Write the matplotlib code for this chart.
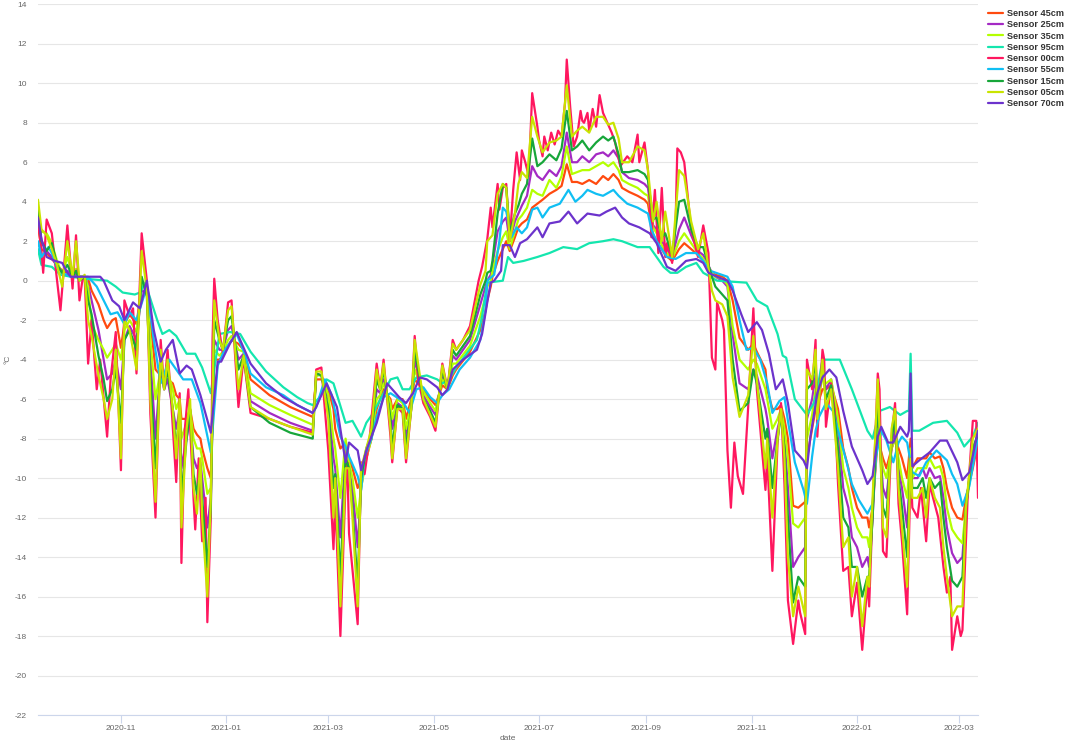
import matplotlib
matplotlib.use('Agg')
import matplotlib.pyplot as plt
import matplotlib.dates as mdates
import pandas as pd

START = '2020-09-14'   # first logged day, data given as (day since START, temperature)
END = '2022-03-12'

# --- Sensor 00cm (surface), sampled densely because of the spikes
s00 = [(0, 3.0), (2, 1.5), (3, 0.4), (5, 3.1), (8, 2.4), (10, 0.8), (13, -1.5), (17, 2.8), (20, -0.4),
       (22, 2.3), (24, -1.0), (26, 0.2), (27, 0.2), (29, -4.2), (31, -2.0), (34, -5.5), (36, -4.0),
       (40, -7.9), (42, -5.0), (45, -2.6), (48, -9.6), (50, -1.0), (53, -1.8), (55, -1.4), (57, -4.7),
       (60, 2.4), (63, 0.0), (65, -6.7), (68, -12.0), (71, -3.0), (73, -5.5), (75, -3.5), (77, -6.0),
       (80, -10.2), (82, -5.7), (83, -14.3), (85, -7.5), (87, -5.5), (90, -11.0), (91, -12.6), (93, -9.0),
       (95, -13.2), (97, -11.0), (98, -17.3), (100, -12.0), (101, -3.0), (102, 0.1), (104, -2.0),
       (107, -3.7), (110, -1.1), (112, -1.0), (116, -6.4), (119, -3.9), (123, -6.7), (134, -7.0),
       (146, -7.4), (159, -7.7), (161, -4.5), (164, -4.4), (168, -8.6), (171, -13.6), (172, -11.0),
       (175, -18.0), (178, -10.2), (179, -9.2), (180, -12.8), (185, -17.4), (187, -9.2), (189, -9.8),
       (192, -7.9), (196, -4.2), (198, -5.5), (200, -4.0), (204, -7.9), (205, -9.2), (208, -6.4),
       (211, -6.7), (213, -9.2), (216, -6.5), (218, -2.8), (220, -5.0), (223, -6.2), (227, -6.9),
       (230, -7.6), (234, -4.2), (237, -5.5), (240, -3.0), (242, -3.5), (246, -3.0), (250, -2.3),
       (255, 0.0), (257, 0.7), (260, 2.1), (262, 3.7), (263, 2.7), (266, 4.9), (267, 3.6), (269, 4.7),
       (271, 4.9), (273, 2.0), (275, 4.6), (277, 6.5), (279, 5.1), (280, 6.6), (282, 6.0), (284, 5.3),
       (286, 9.5), (289, 7.8), (290, 7.1), (292, 6.3), (293, 7.3), (295, 6.6), (297, 7.5), (299, 6.9),
       (301, 7.6), (303, 7.3), (305, 9.0), (306, 11.2), (308, 8.8), (310, 6.8), (312, 7.3), (314, 8.6),
       (315, 8.1), (316, 8.0), (318, 8.5), (319, 7.6), (321, 8.7), (323, 7.8), (325, 9.4), (327, 8.5),
       (329, 8.1), (332, 7.5), (334, 7.0), (337, 5.8), (341, 6.3), (344, 6.0), (347, 7.4), (348, 6.0),
       (351, 7.0), (353, 5.6), (355, 2.2), (357, 4.6), (359, 1.4), (361, 4.7), (363, 1.2), (364, 1.9),
       (367, 0.9), (369, 3.0), (370, 6.7), (372, 6.5), (374, 6.0), (378, 2.6), (382, 1.2), (385, 2.8),
       (388, 1.4), (390, -3.9), (392, -4.5), (393, -1.1), (396, -2.0), (397, -2.5), (399, -8.6),
       (401, -11.5), (403, -8.2), (405, -9.9), (408, -10.8), (411, -6.4), (414, -1.4), (416, -5.5),
       (418, -7.5), (421, -10.6), (422, -8.9), (425, -14.7), (428, -8.2), (430, -6.2), (432, -10.3),
       (434, -16.2), (437, -18.4), (440, -16.2), (441, -16.8), (444, -17.9), (445, -4.0), (448, -5.5),
       (450, -3.0), (451, -7.9), (454, -3.5), (455, -4.0), (456, -7.4), (459, -5.2), (461, -6.5),
       (463, -10.3), (466, -14.7), (469, -14.5), (471, -17.0), (474, -15.3), (477, -18.7), (480, -15.3),
       (481, -16.5), (483, -11.6), (486, -4.7), (487, -5.5), (489, -13.7), (491, -14.0), (494, -7.9),
       (496, -6.2), (498, -11.3), (500, -13.2), (503, -16.9), (505, -9.6), (506, -11.5), (509, -12.0),
       (511, -10.5), (514, -13.2), (516, -10.3), (518, -11.0), (521, -12.0), (524, -14.5), (526, -15.8),
       (528, -15.0), (529, -18.7), (532, -17.0), (534, -18.0), (535, -17.7), (538, -11.0), (541, -7.1),
       (543, -7.1), (544, -11.0)]

# --- Sensor 70cm
s70 = [(0, 3.2), (2, 2.1), (5, 1.2), (10, 1.0), (14, 0.9), (17, 0.4), (19, 0.2), (36, 0.2), (38, 0.0),
       (43, -1.0), (47, -1.3), (50, -2.0), (55, -1.1), (59, -1.4), (63, 0.0), (67, -2.5), (71, -4.1),
       (74, -3.5), (78, -3.0), (82, -4.7), (86, -4.3), (89, -4.5), (94, -5.8), (100, -7.7), (104, -4.1),
       (106, -4.1), (111, -3.2), (115, -2.6), (119, -3.4), (123, -4.2), (132, -5.2), (142, -5.9),
       (150, -6.3), (159, -6.7), (161, -6.4), (167, -5.2), (173, -6.4), (178, -9.2), (180, -8.2),
       (185, -8.6), (187, -9.6), (190, -8.6), (196, -7.2), (200, -5.9), (202, -5.2), (205, -5.5),
       (209, -5.9), (213, -6.2), (217, -5.7), (221, -4.9), (225, -5.0), (231, -5.4), (234, -5.8),
       (237, -5.5), (240, -4.5), (246, -4.0), (254, -3.5), (257, -2.7), (260, -1.1), (262, -0.1),
       (264, 0.0), (268, 0.5), (269, 1.8), (273, 1.8), (276, 1.2), (279, 1.9), (283, 2.1), (289, 2.7),
       (292, 2.2), (296, 2.9), (302, 3.0), (307, 3.5), (312, 2.9), (318, 3.4), (325, 3.3), (329, 3.5),
       (334, 3.7), (338, 3.2), (342, 2.9), (348, 2.7), (354, 2.4), (358, 1.9), (364, 0.7), (369, 0.5),
       (375, 1.0), (381, 1.1), (385, 0.9), (388, 0.4), (393, 0.2), (399, 0.0), (402, -0.5), (407, -1.7),
       (411, -2.6), (416, -2.1), (419, -2.5), (423, -3.7), (427, -5.5), (431, -5.0), (434, -6.2),
       (438, -8.6), (443, -9.1), (445, -9.5), (447, -7.9), (451, -5.7), (454, -4.9), (458, -4.5),
       (462, -4.9), (466, -6.6), (471, -8.4), (477, -9.6), (480, -10.3), (483, -9.9), (486, -7.9),
       (488, -7.4), (492, -8.2), (495, -8.2), (499, -7.4), (503, -7.9), (504, -7.6), (505, -4.7),
       (506, -9.4), (510, -9.1), (516, -8.7), (522, -8.1), (526, -8.1), (532, -9.2), (535, -10.1),
       (539, -9.7), (544, -7.6)]

# --- Sensor 55cm
s55 = [(0, 2.0), (2, 1.2), (6, 1.7), (8, 1.4), (11, 0.7), (14, 0.4), (19, 0.2), (29, 0.2), (34, -0.3),
       (38, -1.0), (42, -1.7), (46, -1.6), (50, -2.2), (53, -1.6), (57, -2.0), (63, -0.3), (67, -3.0),
       (71, -5.2), (76, -4.0), (84, -5.0), (89, -5.0), (94, -6.2), (100, -8.7), (104, -4.3), (108, -3.5),
       (115, -2.7), (120, -3.8), (123, -4.7), (132, -5.4), (142, -5.8), (150, -6.3), (159, -6.7),
       (161, -6.4), (166, -5.0), (170, -5.8), (175, -7.9), (178, -8.4), (180, -8.9), (185, -9.9),
       (187, -10.6), (189, -8.9), (193, -8.0), (196, -6.9), (200, -5.9), (204, -5.7), (211, -6.1),
       (215, -6.7), (219, -5.5), (223, -5.4), (227, -5.9), (231, -6.2), (234, -5.8), (238, -5.5),
       (244, -4.5), (250, -3.9), (256, -3.0), (259, -1.5), (260, 0.0), (264, 0.3), (267, 2.0), (269, 3.7),
       (271, 3.5), (274, 2.2), (277, 2.7), (280, 2.4), (283, 2.7), (286, 3.6), (289, 3.7), (292, 3.2),
       (296, 3.7), (302, 3.9), (307, 4.6), (311, 4.0), (315, 4.3), (318, 4.6), (323, 4.4), (327, 4.3),
       (333, 4.6), (336, 4.3), (341, 3.9), (347, 3.7), (353, 3.4), (355, 2.6), (358, 2.0), (364, 1.2),
       (369, 1.1), (375, 1.4), (381, 1.4), (385, 1.0), (389, 0.5), (399, 0.2), (402, -0.3), (406, -2.0),
       (410, -3.5), (414, -3.4), (418, -4.0), (422, -5.2), (425, -6.7), (429, -6.1), (432, -5.9),
       (434, -7.1), (438, -9.2), (443, -10.6), (445, -11.3), (448, -8.9), (450, -7.6), (452, -6.9),
       (456, -6.2), (460, -6.6), (464, -7.9), (468, -9.2), (471, -10.3), (475, -11.1), (480, -11.8),
       (483, -11.3), (485, -8.9), (488, -7.6), (491, -8.1), (495, -9.2), (498, -8.2), (500, -7.9),
       (503, -8.2), (506, -9.7), (510, -9.9), (514, -9.2), (520, -8.6), (526, -9.1), (529, -9.8),
       (532, -10.3), (535, -11.4), (539, -10.4), (544, -7.9)]

# --- Sensor 95cm (deepest, smoothest)
s95 = [(0, 1.6), (2, 0.8), (8, 0.7), (13, 0.3), (19, 0.2), (27, 0.1), (40, 0.0), (45, -0.3), (49, -0.6),
       (56, -0.7), (59, -0.6), (62, -0.1), (69, -2.0), (72, -2.7), (76, -2.5), (80, -2.8), (86, -3.7),
       (91, -3.7), (95, -4.4), (100, -5.7), (105, -2.7), (111, -2.6), (117, -2.7), (123, -3.6),
       (132, -4.6), (142, -5.4), (150, -5.9), (156, -6.2), (159, -6.3), (163, -5.9), (167, -5.0),
       (171, -5.2), (178, -7.2), (182, -7.1), (187, -7.9), (190, -7.2), (194, -6.7), (200, -5.7),
       (204, -5.0), (208, -4.9), (211, -5.5), (215, -5.5), (219, -4.9), (225, -4.8), (231, -5.0),
       (234, -5.2), (238, -5.0), (242, -4.4), (248, -3.7), (254, -3.0), (257, -1.8), (260, -0.1),
       (269, 0.0), (272, 1.2), (275, 0.9), (281, 1.0), (289, 1.2), (296, 1.4), (304, 1.7), (312, 1.6),
       (319, 1.9), (327, 2.0), (333, 2.1), (338, 2.0), (347, 1.7), (354, 1.7), (358, 1.2), (362, 0.7),
       (366, 0.4), (370, 0.4), (375, 0.7), (381, 0.9), (385, 0.4), (393, 0.0), (410, -0.1), (416, -1.0),
       (422, -1.3), (428, -2.7), (431, -3.8), (433, -3.9), (438, -6.0), (445, -6.8), (449, -6.2),
       (451, -5.5), (454, -4.0), (464, -4.0), (471, -5.5), (480, -7.6), (483, -8.0), (487, -6.6),
       (493, -6.4), (499, -6.8), (503, -6.6), (504, -6.6), (505, -3.7), (506, -7.6), (510, -7.6),
       (518, -7.2), (526, -7.1), (532, -7.7), (536, -8.4), (541, -7.9), (544, -7.2)]

# --- the five middle sensors share one set of sample days
days_mid = [0, 2, 5, 8, 11, 14, 17, 20, 22, 24, 27, 29, 31, 35, 38, 40, 43, 45, 48, 50, 53, 57, 60, 63, 65,
            68, 71, 73, 75, 78, 80, 82, 83, 86, 88, 90, 92, 94, 95, 98, 100, 102, 105, 107, 110, 112, 116,
            119, 123, 134, 146, 159, 161, 164, 168, 171, 172, 175, 178, 180, 182, 185, 187, 190, 193, 196,
            198, 200, 204, 205, 208, 211, 213, 216, 218, 223, 227, 230, 234, 237, 240, 242, 250, 256, 259,
            260, 262, 263, 266, 269, 271, 273, 276, 278, 280, 283, 286, 289, 292, 296, 300, 303, 306, 309,
            312, 315, 319, 323, 327, 330, 333, 336, 338, 342, 347, 351, 353, 356, 358, 361, 363, 367, 371,
            374, 378, 382, 385, 390, 392, 396, 399, 402, 406, 411, 414, 416, 421, 422, 425, 428, 430, 432,
            434, 437, 440, 444, 445, 448, 450, 451, 454, 456, 459, 463, 466, 469, 471, 474, 477, 480, 481,
            483, 486, 489, 491, 494, 496, 498, 500, 503, 505, 506, 509, 512, 514, 516, 519, 522, 524, 526,
            529, 532, 535, 537, 541, 544]

t05 = [4.1, 2.6, 2.3, 1.6, 0.8, -0.3, 2.0, 0.2, 2.0, 0.0, 0.3, -2.0, -2.8, -4.8, -6.0, -7.0, -6.0, -3.5,
       -9.0, -2.0, -2.5, -4.5, 1.5, -0.5, -6.0, -11.2, -3.5, -5.5, -4.0, -6.5, -9.0, -6.0, -12.5, -7.5,
       -6.0, -10.5, -11.8, -9.0, -12.0, -16.0, -11.0, -1.0, -3.0, -3.5, -1.5, -1.3, -5.5, -3.8, -6.4,
       -7.0, -7.4, -7.8, -4.6, -4.6, -7.0, -12.0, -10.0, -16.5, -9.5, -9.5, -12.0, -16.5, -9.5, -8.5,
       -7.5, -4.5, -5.5, -4.2, -7.5, -9.0, -6.5, -6.5, -9.0, -6.5, -3.0, -6.0, -6.8, -7.4, -4.3, -5.5,
       -3.2, -3.5, -2.5, -0.2, 0.5, 2.0, 2.2, 2.3, 4.4, 4.9, 4.7, 2.0, 3.4, 4.9, 5.5, 5.2, 8.3, 7.3, 6.5,
       7.0, 7.1, 7.3, 9.9, 7.3, 7.6, 7.8, 7.5, 8.3, 8.3, 7.9, 8.0, 7.2, 6.0, 6.0, 6.8, 6.6, 5.6, 3.0, 4.0,
       2.0, 3.5, 1.2, 5.6, 5.3, 3.0, 1.6, 2.4, -0.5, -1.0, -1.2, -1.8, -4.9, -6.9, -5.8, -2.8, -5.0, -9.5,
       -8.0, -12.0, -8.0, -6.5, -9.0, -14.0, -17.0, -15.5, -17.0, -4.5, -5.0, -3.5, -7.0, -4.0, -6.5,
       -5.5, -9.5, -13.5, -13.0, -16.0, -14.5, -17.5, -15.0, -15.5, -11.0, -5.0, -12.5, -13.0, -7.5,
       -6.5, -10.5, -12.5, -15.5, -9.0, -11.0, -11.0, -10.5, -12.0, -10.0, -11.0, -11.5, -13.5, -15.0,
       -17.0, -16.5, -16.5, -11.5, -8.0, -7.5]

t15 = [3.6, 2.0, 1.5, 1.9, 0.8, 0.4, 0.8, 0.2, 0.5, 0.0, 0.2, -1.0, -1.7, -3.8, -5.0, -6.1, -5.5, -4.5,
       -7.2, -3.0, -2.5, -3.5, 0.2, -0.8, -5.0, -9.5, -4.0, -5.5, -4.5, -6.5, -8.5, -6.5, -11.0, -8.0,
       -6.5, -9.8, -10.8, -9.5, -11.0, -14.5, -11.5, -2.0, -3.0, -3.5, -2.0, -1.8, -4.5, -3.8, -6.4,
       -7.2, -7.7, -8.0, -4.7, -4.8, -6.5, -10.5, -9.8, -15.0, -9.0, -9.5, -11.5, -15.5, -10.0, -8.5,
       -7.8, -5.0, -5.5, -4.5, -7.0, -8.5, -6.3, -6.5, -8.5, -6.5, -3.5, -6.0, -6.6, -7.2, -4.5, -5.5,
       -3.5, -3.8, -2.8, -0.7, 0.0, 0.4, 0.5, 1.0, 3.4, 4.9, 4.7, 2.4, 3.4, 3.8, 4.4, 4.9, 7.2, 5.8, 6.0,
       6.4, 6.1, 6.7, 8.6, 6.6, 6.8, 7.1, 6.6, 7.0, 7.3, 7.1, 7.3, 6.4, 5.5, 5.5, 5.6, 5.4, 5.1, 3.1, 3.2,
       2.2, 2.4, 1.3, 4.0, 4.1, 2.6, 1.7, 1.7, 0.2, -0.3, -0.7, -1.0, -4.0, -6.6, -6.2, -4.5, -5.2, -8.0,
       -7.5, -10.5, -8.0, -6.8, -8.5, -12.0, -16.3, -15.0, -15.5, -5.5, -5.2, -4.0, -6.5, -4.2, -6.0,
       -5.3, -8.5, -12.0, -12.5, -14.5, -14.5, -16.0, -15.0, -15.0, -12.0, -6.0, -11.5, -12.0, -8.0,
       -7.0, -10.0, -11.5, -14.0, -9.0, -10.5, -10.5, -10.0, -11.0, -10.0, -10.5, -10.2, -12.0, -13.5,
       -15.2, -15.5, -15.0, -11.5, -8.5, -7.8]

t25 = [3.2, 2.0, 1.5, 1.2, 0.7, 0.5, 0.5, 0.3, 0.3, 0.2, 0.2, -0.2, -1.0, -2.5, -4.0, -5.0, -4.7, -4.0,
       -5.5, -3.0, -2.3, -3.0, -0.5, -0.6, -3.8, -8.0, -4.2, -5.5, -5.0, -6.5, -7.5, -6.5, -9.5, -8.0,
       -7.0, -9.0, -9.5, -9.2, -10.0, -12.5, -11.0, -3.0, -3.5, -3.5, -2.5, -2.3, -4.0, -3.7, -6.1,
       -6.7, -7.2, -7.6, -4.7, -4.8, -6.0, -9.0, -9.5, -13.0, -8.5, -9.5, -10.5, -13.5, -10.5, -8.8,
       -8.0, -5.5, -5.7, -5.0, -6.5, -7.5, -6.2, -6.4, -8.0, -6.3, -4.0, -5.8, -6.4, -6.8, -4.8, -5.5,
       -3.8, -4.0, -3.0, -1.2, -0.3, 0.0, 0.3, 0.8, 2.5, 3.0, 3.2, 2.0, 3.0, 3.4, 3.8, 4.3, 5.8, 5.3, 5.1,
       5.6, 5.3, 5.8, 7.5, 6.0, 6.0, 6.3, 6.0, 6.4, 6.5, 6.3, 6.6, 6.2, 5.5, 5.2, 5.1, 4.9, 4.7, 2.8, 2.6,
       2.0, 1.7, 1.2, 2.6, 3.2, 2.3, 1.5, 1.3, 0.4, 0.2, 0.0, -0.3, -2.7, -5.2, -5.5, -4.5, -4.8, -6.5,
       -7.0, -9.0, -7.5, -6.8, -8.0, -10.5, -14.5, -14.0, -13.5, -7.0, -6.0, -4.8, -6.0, -4.5, -5.5,
       -5.0, -7.5, -10.5, -11.5, -13.0, -13.5, -14.5, -14.0, -14.5, -12.0, -7.0, -10.5, -11.0, -8.5,
       -7.5, -9.5, -10.5, -12.5, -9.0, -10.0, -10.0, -9.5, -10.0, -9.5, -10.0, -9.9, -11.0, -12.5,
       -13.8, -14.3, -14.0, -11.5, -8.5, -7.8]

t35 = [3.5, 2.5, 2.4, 1.9, 1.0, 0.3, 1.2, 0.3, 0.6, 0.2, 0.2, -0.3, -2.2, -3.0, -3.5, -3.9, -3.5, -3.2,
       -4.0, -2.5, -2.0, -2.6, -0.2, -0.5, -3.0, -6.0, -4.5, -5.0, -4.6, -5.5, -6.5, -6.0, -8.0, -7.2,
       -6.5, -8.0, -8.5, -8.5, -9.0, -10.8, -10.5, -3.5, -3.8, -3.6, -3.0, -2.8, -3.5, -3.6, -5.7,
       -6.3, -6.8, -7.3, -4.8, -4.8, -5.8, -8.0, -8.5, -11.0, -8.0, -9.2, -10.0, -12.0, -10.5, -9.0,
       -8.0, -6.0, -5.8, -5.2, -6.2, -7.0, -6.0, -6.2, -7.5, -6.2, -4.5, -5.6, -6.2, -6.6, -5.0, -5.5,
       -4.2, -4.2, -3.3, -1.8, -0.8, -0.3, 0.0, 0.5, 1.5, 2.2, 2.5, 1.6, 2.5, 3.1, 3.3, 3.7, 4.6, 4.4, 4.3,
       5.1, 4.7, 5.3, 6.8, 5.4, 5.5, 5.6, 5.6, 5.8, 6.0, 5.8, 6.0, 5.6, 5.1, 4.9, 4.7, 4.4, 4.3, 2.7, 2.4,
       1.8, 1.5, 1.1, 2.0, 2.4, 1.9, 1.4, 1.1, 0.4, 0.2, 0.1, -0.2, -2.3, -4.0, -4.5, -4.0, -4.2, -5.5,
       -6.0, -7.5, -7.0, -6.5, -7.5, -9.0, -12.3, -12.5, -12.0, -8.0, -6.8, -5.5, -6.0, -5.0, -5.2,
       -5.0, -7.0, -9.5, -10.5, -11.5, -12.5, -13.0, -13.0, -13.5, -11.5, -7.5, -9.5, -10.0, -8.5,
       -8.0, -9.0, -10.0, -11.0, -8.5, -10.0, -9.5, -9.5, -9.5, -9.0, -9.5, -9.4, -10.0, -11.5,
       -12.6, -13.0, -13.3, -11.5, -9.0, -8.0]

t45 = [2.8, 1.6, 1.4, 1.1, 0.8, 0.5, 0.4, 0.3, 0.3, 0.2, 0.2, 0.1, -0.5, -1.2, -2.0, -2.4, -2.0, -1.9,
       -3.4, -2.2, -1.7, -2.2, -0.3, -0.3, -2.0, -4.5, -4.8, -5.2, -5.0, -5.2, -5.8, -6.0, -7.0, -7.0,
       -6.5, -7.5, -7.8, -8.0, -8.5, -9.5, -10.0, -4.0, -4.0, -3.8, -3.3, -3.0, -3.2, -3.5, -5.0,
       -5.8, -6.4, -6.9, -5.0, -5.0, -5.5, -6.5, -7.5, -8.5, -8.2, -9.0, -9.5, -10.5, -10.0, -9.0,
       -8.0, -6.5, -6.0, -5.5, -6.0, -6.5, -6.0, -6.0, -7.0, -6.0, -5.0, -5.5, -6.0, -6.3, -5.3, -5.5,
       -4.8, -4.5, -3.6, -2.5, -1.5, -1.0, -0.3, 0.2, 1.0, 1.6, 2.0, 1.5, 2.2, 2.7, 2.9, 3.1, 3.7, 3.9, 4.1,
       4.4, 4.6, 4.8, 5.9, 5.0, 5.0, 4.9, 5.1, 4.9, 5.3, 5.1, 5.4, 5.1, 4.7, 4.5, 4.3, 4.1, 3.9, 2.3, 2.0,
       1.6, 1.3, 1.0, 1.6, 1.9, 1.6, 1.3, 1.0, 0.4, 0.3, 0.2, 0.0, -1.0, -2.9, -3.5, -3.2, -3.6, -4.5,
       -5.5, -6.5, -6.5, -6.3, -7.0, -8.0, -11.4, -11.5, -11.2, -9.0, -7.5, -6.5, -6.3, -5.5, -5.5,
       -5.3, -6.5, -8.5, -9.5, -10.5, -11.5, -12.0, -12.0, -12.5, -11.5, -8.0, -9.0, -9.5, -8.5,
       -8.0, -8.5, -9.0, -10.0, -8.0, -9.5, -9.0, -9.0, -9.0, -8.7, -9.0, -8.9, -9.5, -10.5,
       -11.5, -12.0, -12.1, -11.0, -9.5, -8.2]

# legend order as in the original chart
labels = ['Sensor 45cm', 'Sensor 25cm', 'Sensor 35cm', 'Sensor 95cm', 'Sensor 00cm',
          'Sensor 55cm', 'Sensor 15cm', 'Sensor 05cm', 'Sensor 70cm']
colors = ['#ff4a0f', '#a42ac4', '#b4ff00', '#14e6ae', '#ff175f',
          '#10bff3', '#17a63a', '#c9e400', '#6c33cc']


def to_dates(days):
    return pd.Timestamp(START) + pd.to_timedelta(days, unit='D')


def pairs(series):
    d = [p[0] for p in series]
    v = [p[1] for p in series]
    return to_dates(d), v


mid_dates = to_dates(days_mid)
series = {
    'Sensor 45cm': (mid_dates, t45),
    'Sensor 25cm': (mid_dates, t25),
    'Sensor 35cm': (mid_dates, t35),
    'Sensor 95cm': pairs(s95),
    'Sensor 00cm': pairs(s00),
    'Sensor 55cm': pairs(s55),
    'Sensor 15cm': (mid_dates, t15),
    'Sensor 05cm': (mid_dates, t05),
    'Sensor 70cm': pairs(s70),
}

plt.rcParams['font.family'] = ['Liberation Sans', 'DejaVu Sans']
plt.rcParams['axes.unicode_minus'] = False

W, H = 1065, 744
fig = plt.figure(figsize=(W / 100, H / 100), dpi=100)
ax = fig.add_axes([38 / W, 29 / H, 940 / W, 710.7 / H])

for i, (name, col) in enumerate(zip(labels, colors)):
    x, y = series[name]
    ax.plot(x, y, color=col, lw=1.6, label=name, zorder=3 + i,
            solid_joinstyle='round', solid_capstyle='round')

ax.set_ylim(-22, 14)
ax.set_yticks(range(-22, 15, 2))
ax.set_xlim(pd.Timestamp(START), pd.Timestamp(END))
ax.xaxis.set_major_locator(mdates.MonthLocator(bymonth=[1, 3, 5, 7, 9, 11]))
ax.xaxis.set_major_formatter(mdates.DateFormatter('%Y-%m'))

ax.grid(axis='y', color='#e6e6e6', lw=0.8)
ax.set_axisbelow(True)
for side in ['top', 'right', 'left']:
    ax.spines[side].set_visible(False)
ax.spines['bottom'].set_color('#ccd6eb')
ax.spines['bottom'].set_linewidth(0.8)

ax.tick_params(axis='y', length=0, pad=8, labelsize=6, labelcolor='#666666')
ax.tick_params(axis='x', length=6, width=0.8, color='#ccd6eb', pad=1.5,
               labelsize=6, labelcolor='#666666')

ax.set_ylabel('°C', fontsize=6, color='#666666')
ax.yaxis.set_label_coords(-27 / 940, 0.5)
ax.set_xlabel('date', fontsize=6, color='#666666')
ax.xaxis.set_label_coords(0.5, -20 / 710.7)

leg = fig.legend(loc='upper left', bbox_to_anchor=(988 / W, 1 - 9 / H), frameon=False,
                 prop={'weight': 'bold', 'size': 6.6}, handlelength=1.6, handletextpad=0.45,
                 labelspacing=0.25, borderaxespad=0, borderpad=0)
for t in leg.get_texts():
    t.set_color('#333333')

fig.savefig('out.png', dpi=100)
